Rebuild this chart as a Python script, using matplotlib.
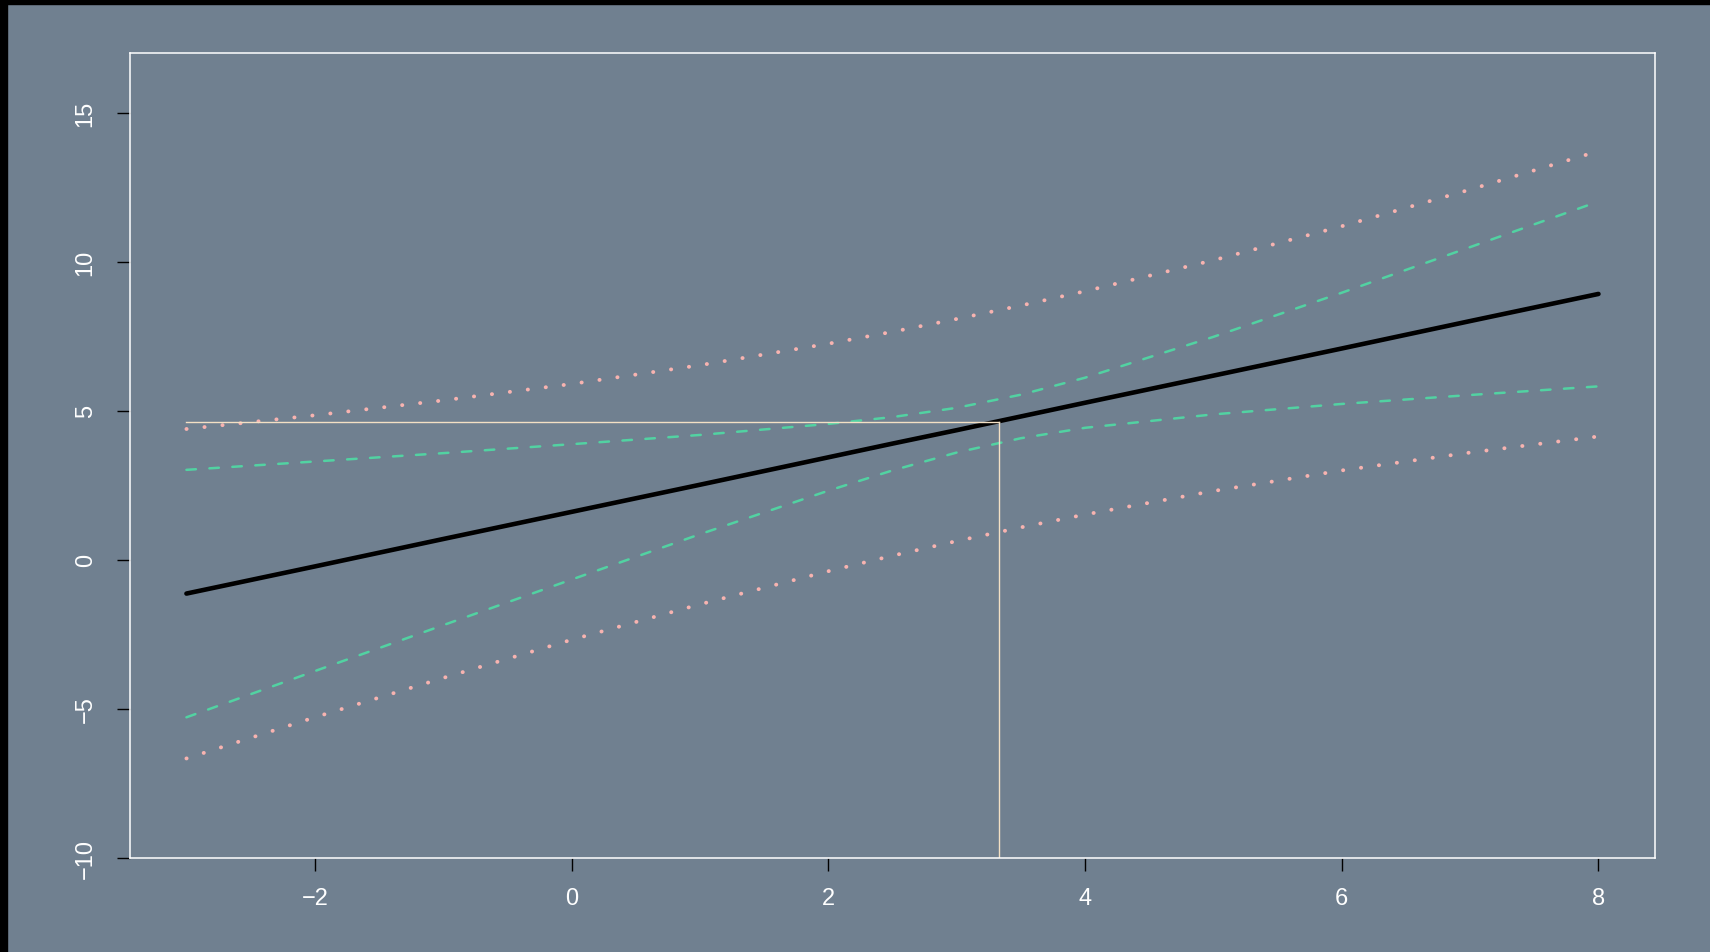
import matplotlib
matplotlib.use("Agg")
import matplotlib.pyplot as plt
from matplotlib.patches import Rectangle

# fitted line and bands
x_grid = [-3, -2, -1, 0, 1, 2, 2.5, 3, 3.5, 4, 5, 6, 7, 8]
fit = [-1.13, -0.22, 0.70, 1.61, 2.52, 3.44, 3.90, 4.35, 4.81, 5.27, 6.18, 7.09, 8.01, 8.92]
conf_upr = [3.02, 3.30, 3.58, 3.88, 4.19, 4.56, 4.79, 5.10, 5.54, 6.11, 7.48, 8.96, 10.49, 12.02]
conf_lwr = [-5.28, -3.73, -2.19, -0.66, 0.86, 2.32, 3.00, 3.60, 4.08, 4.43, 4.88, 5.23, 5.53, 5.82]
pred_upr = [4.39, 4.85, 5.35, 5.90, 6.53, 7.25, 7.65, 8.08, 8.53, 9.01, 10.05, 11.19, 12.42, 13.71]
pred_lwr = [-6.66, -5.28, -3.96, -2.68, -1.49, -0.38, 0.14, 0.63, 1.09, 1.52, 2.31, 3.00, 3.60, 4.14]

# reference point marked by the guide segments
x0, y0 = 3.33, 4.64
x_start = -3

xticks = [-2, 0, 2, 4, 6, 8]
yticks = [-10, -5, 0, 5, 10, 15]

bg = "#708090"
plt.rcParams["font.family"] = ["Liberation Sans", "DejaVu Sans"]

fig = plt.figure(figsize=(17.1, 9.53), dpi=100, facecolor=bg)
ax = fig.add_axes([0.0760, 0.0986, 0.8918, 0.8447])
ax.set_facecolor(bg)

dots = dict(color="#F7B3B0", lw=2.8, ls=(0, (0.05, 4.6)), dash_capstyle="round")
dashes = dict(color="#52D2A2", lw=1.8, ls=(0, (3.8, 5.4)), dash_capstyle="round")
ax.plot(x_grid, pred_upr, **dots)
ax.plot(x_grid, pred_lwr, **dots)
ax.plot(x_grid, conf_upr, **dashes)
ax.plot(x_grid, conf_lwr, **dashes)
ax.plot(x_grid, fit, color="black", lw=3.3, solid_capstyle="round")

# guide segments
ax.plot([x_start, x0], [y0, y0], color="#F3E0C4", lw=1.0)
ax.plot([x0, x0], [-10, y0], color="#F3E0C4", lw=1.0)

ax.set_xlim(-3.44, 8.44)
ax.set_ylim(-10, 17)
ax.set_xticks(xticks)
ax.set_yticks(yticks)
ax.set_xticklabels(["\u22122", "0", "2", "4", "6", "8"])
ax.set_yticklabels(["\u221210", "\u22125", "0", "5", "10", "15"])
for s in ax.spines.values():
    s.set_color("white")
    s.set_linewidth(1.1)
ax.tick_params(axis="both", colors="black", labelcolor="white", labelsize=17,
               length=9.5, width=1.0, direction="out")
ax.tick_params(axis="x", pad=11.5)
ax.tick_params(axis="y", pad=14.5)
for lab in ax.get_yticklabels():
    lab.set_rotation(90)
    lab.set_va("center")
    lab.set_ha("right")

# black strips at the top and left edge of the screenshot
fig.patches.append(Rectangle((0, 0), 7 / 1710, 1, transform=fig.transFigure,
                             color="black", zorder=10))
fig.patches.append(Rectangle((0, 1 - 5 / 953), 1, 5 / 953, transform=fig.transFigure,
                             color="black", zorder=10))

fig.savefig("out.png", dpi=100, facecolor=bg)
